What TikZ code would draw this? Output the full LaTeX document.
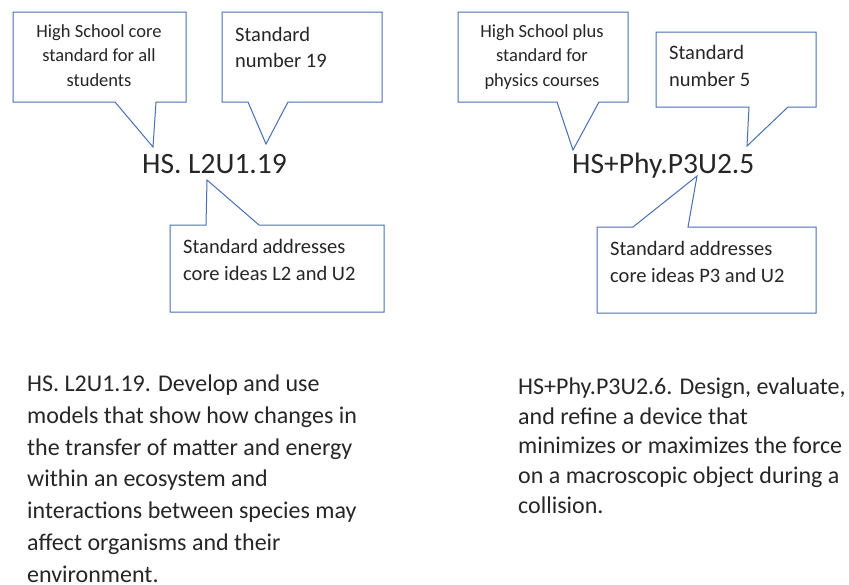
\documentclass[tikz,border=0pt]{standalone}
\usepackage{fontspec}
\setmainfont{Carlito}
\definecolor{calloutblue}{RGB}{72,110,180}
\definecolor{textgray}{RGB}{38,38,38}
\tikzset{
  callout/.style={draw=calloutblue,line width=1pt,fill=white,line join=miter},
  boxtext/.style={inner sep=0pt,text=textgray,anchor=base west},
  codetext/.style={inner sep=0pt,text=textgray,anchor=base west,font=\fontsize{29.5}{32}\selectfont},
  paratext/.style={inner sep=0pt,text=textgray,anchor=base west,align=left,
    font=\fontsize{24}{31.7}\selectfont}
}
\begin{document}
\begin{tikzpicture}[x=1pt,y=-1pt]
  \useasboundingbox (0,0) rectangle (849,584);
  % left standard
  \draw[callout] (13,12) -- (186,12) -- (186,102) -- (156,102) -- (153,147)
    -- (115,102) -- (13,102) -- cycle;
  \node[boxtext,anchor=base,align=center,font=\fontsize{18.5}{24.5}\selectfont]
    (hscore) at (99,86) {High School core\\standard for all\\students};
  \draw[callout] (222,12) -- (382,12) -- (382,102) -- (288,102) -- (266,144)
    -- (248,102) -- (222,102) -- cycle;
  \node[boxtext,align=left,font=\fontsize{20.5}{26}\selectfont]
    (num19) at (235,67) {Standard\\number 19};
  \draw[callout] (170,225) -- (206,225) -- (207,180) -- (259,225) -- (384,225)
    -- (384,312) -- (170,312) -- cycle;
  \node[boxtext,align=left,font=\fontsize{20.5}{26.5}\selectfont]
    (ideasL) at (183,280) {Standard addresses\\core ideas L2 and U2};
  \node[codetext] (codeL) at (142,173) {HS. L2U1.19};
  % right standard
  \draw[callout] (458,12) -- (628,12) -- (628,102) -- (599,102) -- (573,150)
    -- (557,102) -- (458,102) -- cycle;
  \node[boxtext,anchor=base,align=center,font=\fontsize{18.5}{24.5}\selectfont]
    (hsplus) at (542,86) {High School plus\\standard for\\physics courses};
  \draw[callout] (656,32) -- (816,32) -- (816,107) -- (788,107) -- (747,146)
    -- (749,107) -- (656,107) -- cycle;
  \node[boxtext,align=left,font=\fontsize{20.5}{27}\selectfont]
    (num5) at (669,86) {Standard\\number 5};
  \draw[callout] (597,227) -- (633,227) -- (697,176) -- (688,227) -- (816,227)
    -- (816,313) -- (597,313) -- cycle;
  \node[boxtext,align=left,font=\fontsize{20.5}{26.5}\selectfont]
    (ideasP) at (610,282) {Standard addresses\\core ideas P3 and U2};
  \node[codetext] (codeP) at (572,173) {HS+Phy.P3U2.5};
  % descriptions
  \node[paratext] (descL) at (27,582) {HS. L2U1.19. Develop and use\\models that show how changes in\\the transfer of matter and energy\\within an ecosystem and\\interactions between species may\\affect organisms and their\\environment.};
  \node[paratext,font=\fontsize{24}{29.6}\selectfont] (descP) at (518,513) {HS+Phy.P3U2.6. Design, evaluate,\\and refine a device that\\minimizes or maximizes the force\\on a macroscopic object during a\\collision.};
\end{tikzpicture}
\end{document}
